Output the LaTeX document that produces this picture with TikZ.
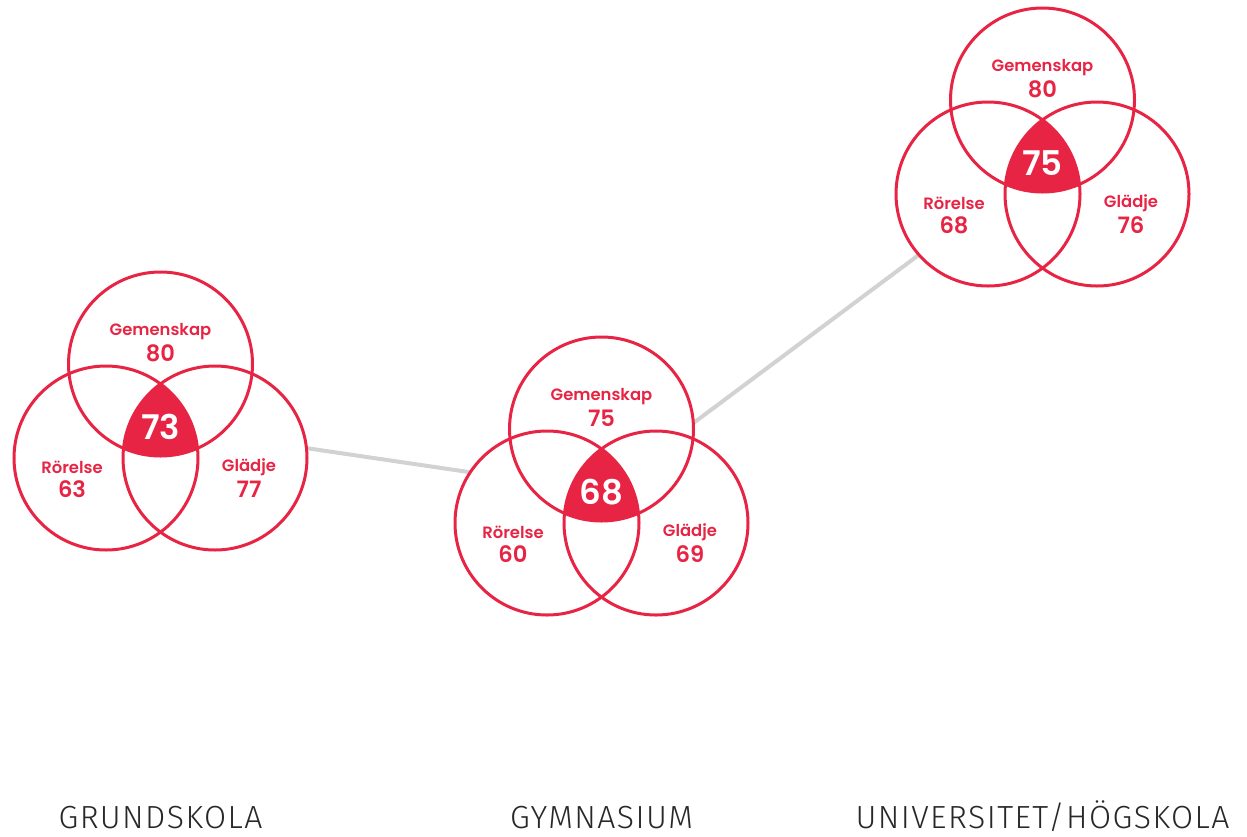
\documentclass[tikz,border=0pt]{standalone}
\usepackage{fontspec}
\usetikzlibrary{calc,backgrounds}
\newfontfamily\vennfont{Poppins SemiBold}
\newfontfamily\stagefont{Fira Sans Light}[LetterSpace=4.5]
\definecolor{vennred}{RGB}{232,36,68}
\definecolor{linkgray}{RGB}{210,210,210}
\definecolor{stagegray}{RGB}{40,40,40}
\newcommand*\ringradius{92}
\tikzset{ring/.style={
    draw=vennred,
    line width=1.5pt
},
setname/.style={
    text=vennred,
    font=\vennfont\fontsize{8.2}{9}\selectfont,
    inner sep=0pt
},
setvalue/.style={
    text=vennred,
    font=\vennfont\fontsize{11.3}{12}\selectfont,
    inner sep=0pt
},
coreval/.style={
    text=white,
    font=\vennfont\fontsize{17}{17}\selectfont,
    inner sep=0pt
},
stage/.style={
    text=stagegray,
    font=\stagefont\fontsize{16}{16}\selectfont,
    inner sep=0pt,
    anchor=base
},
link/.style={
    draw=linkgray,
    line width=2pt
}}

\begin{document}
\begin{tikzpicture}[x=0.5pt,y=-0.5pt]
    \useasboundingbox (0,0) rectangle (1247,836);

    % Three diagrams: lower left circle centre, then the values.
    \foreach \i/\bx/\by/\gem/\ror/\gla/\core/\stagename in {
        1/106/458/80/63/77/73/GRUNDSKOLA,
        2/547/523/75/60/69/68/GYMNASIUM,
        3/988/194/80/68/76/75/{UNIVERSITET/HÖGSKOLA}} {
        \coordinate (l\i) at (\bx,\by);
        \coordinate (r\i) at (\bx+109,\by);
        \coordinate (t\i) at (\bx+54.5,\by-94);

        % White discs first, then the rings on top.
        \fill[white] (t\i) circle[radius=\ringradius];
        \fill[white] (l\i) circle[radius=\ringradius];
        \fill[white] (r\i) circle[radius=\ringradius];
        \begin{scope}
            \clip (t\i) circle[radius=\ringradius];
            \clip (l\i) circle[radius=\ringradius];
            \fill[vennred] (r\i) circle[radius=\ringradius];
        \end{scope}
        \draw[ring] (t\i) circle[radius=\ringradius];
        \draw[ring] (l\i) circle[radius=\ringradius];
        \draw[ring] (r\i) circle[radius=\ringradius];

        % Labels of the sets.
        \node[setname] (gn\i) at ($(t\i)+(0,-32.5)$) {Gemenskap};
        \node[setvalue] (gv\i) at ($(t\i)+(0,-11)$) {\gem};
        \node[setname] (rn\i) at ($(l\i)+(-34,9.5)$) {Rörelse};
        \node[setvalue] (rv\i) at ($(l\i)+(-34,31.5)$) {\ror};
        \node[setname] (an\i) at ($(r\i)+(34,9.5)$) {Glädje};
        \node[setvalue] (av\i) at ($(r\i)+(34,31.5)$) {\gla};
        \node[coreval] (mid\i) at ($(l\i)+(54.5,-31.4)$) {\core};

        % Stage below.
        \node[stage] (st\i) at (\bx+54.5,828) {\stagename};
    }

    % Links between the diagrams, behind the discs.
    \begin{scope}[on background layer]
        \draw[link] (mid1.center) -- (mid2.center);
        \draw[link] (mid2.center) -- (mid3.center);
    \end{scope}

\end{tikzpicture}
\end{document}
